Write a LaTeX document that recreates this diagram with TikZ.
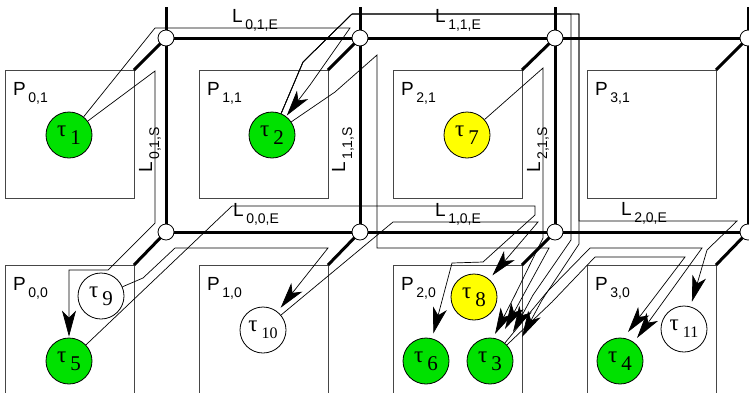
\documentclass[tikz,border=0pt]{standalone}
\usepackage{fontspec}
\setmainfont{Liberation Serif}
\setsansfont{Liberation Sans}
\usetikzlibrary{arrows.meta}
\definecolor{tgreen}{RGB}{0,225,0}
\definecolor{tyellow}{RGB}{255,255,0}
\definecolor{boxgray}{RGB}{70,70,70}
\newcommand\Plab[2]{{\sffamily\fontsize{19}{19}\selectfont #1\hspace{2.5pt}\raisebox{-7pt}{\fontsize{14}{14}\selectfont #2}}}
\newcommand\tlab[1]{{\fontsize{23}{23}\selectfont τ\hspace{4pt}\raisebox{-8pt}{\fontsize{21}{21}\selectfont #1}}}
\newcommand\tlabb[1]{{\fontsize{23}{23}\selectfont τ\hspace{4pt}\raisebox{-7pt}{\fontsize{16}{16}\selectfont #1}}}
\begin{document}
\begin{tikzpicture}[x=1pt,y=-1pt,
  link/.style={line width=3pt},
  router/.style={circle,draw,fill=white,line width=0.8pt,minimum size=16pt,inner sep=0pt},
  pbox/.style={draw=boxgray,line width=0.8pt},
  task/.style={circle,draw,line width=0.8pt,minimum size=46pt,inner sep=0pt},
  wire/.style={line width=0.7pt},
  arr/.style={wire,-{Stealth[length=26pt,width=14pt,inset=7pt]},shorten >=5pt},
  arrc/.style={wire,-{Stealth[length=26pt,width=14pt,inset=7pt]}},
  lab/.style={anchor=base west,inner sep=0pt}]
\useasboundingbox (0,0) rectangle (749,392);
% processor boxes
\foreach \i in {0,1,2,3}{
  \draw[pbox] (5+194*\i,70) rectangle (134+194*\i,198);
  \draw[pbox] (5+194*\i,265) rectangle (134+194*\i,400);
}
% links
\foreach \x in {166,360,555,748}{
  \draw[link] (\x,7) -- (\x,232);
}
\draw[link] (166,38) -- (760,38);
\draw[link] (166,232) -- (760,232);
\foreach \i/\x in {0/166,1/360,2/555,3/748}{
  \draw[link] (134+194*\i,70) -- (\x,38);
  \draw[link] (134+194*\i,265) -- (\x,232);
}
% routers
\foreach \x [count=\k] in {166,360,555,748}{
  \node[router] (ra\k) at (\x,38) {};
  \node[router] (rb\k) at (\x,232) {};
}
% tasks
\node[task,fill=tgreen] (t1) at (69,135) {\tlab{1}};
\node[task,fill=tgreen] (t2) at (272,135) {\tlab{2}};
\node[task,fill=tyellow] (t7) at (467,135) {\tlab{7}};
\node[task,fill=white] (t9) at (101,296) {\tlab{9}};
\node[task,fill=tgreen] (t5) at (69,361) {\tlab{5}};
\node[task,fill=white] (t10) at (263,330) {\tlabb{10}};
\node[task,fill=tyellow] (t8) at (474,297) {\tlab{8}};
\node[task,fill=tgreen] (t6) at (426,361) {\tlab{6}};
\node[task,fill=tgreen] (t3) at (490,361) {\tlab{3}};
\node[task,fill=tgreen] (t4) at (620,361) {\tlab{4}};
\node[task,fill=white] (t11) at (684,329) {\tlabb{11}};
% arrow ends near tau3 and tau4
\coordinate (e1) at (495,334);
\coordinate (e2) at (505,329);
\coordinate (e3) at (513,332);
\coordinate (e4) at (522,337);
\coordinate (f1) at (628,332);
\coordinate (f2) at (637,338);
% wires
\draw[arr,shorten >=1pt] (t1) -- (155,28) -- (350,28) -- (310,85) -- (t2);
\draw[arr,shorten >=1pt] (t1) -- (155,71) -- (155,223) -- (108,270) -- (69,270) -- (t5);
\draw[arrc] (t2) -- (335,92) -- (377,55) -- (377,248) -- (549,248) -- (525,292) -- (e2);
\draw[arrc] (t2) -- (303,62) -- (352,14) -- (571,14) -- (571,240) -- (533,295) -- (e3);
\draw[arrc] (t2) -- (303,62) -- (352,14) -- (579,14) -- (579,244) -- (542,300) -- (e4);
\draw[arr] (t2) -- (303,62) -- (352,14) -- (579,14) -- (579,221) -- (737,221) -- (707,250) -- (t11);
\draw[arrc] (t7) -- (543,68) -- (543,238) -- (515,295) -- (e1);
\draw[arr] (t5) -- (232,206) -- (535,206) -- (535,215) -- (483,262) -- (452,263) -- (t6);
\draw[arr] (t9) -- (143,278) -- (175,248) -- (328,248) -- (t10);
\draw[arr] (t10) -- (393,222) -- (538,222) -- (t8);
\draw[arrc] (t3) -- (547,292) -- (590,248) -- (702,248) -- (f2);
\draw[arrc] (t3) -- (552,302) -- (595,257) -- (685,257) -- (f1);
% labels
\node[lab] (p01) at (13,95) {\Plab{P}{0,1}};
\node[lab] (p11) at (207,95) {\Plab{P}{1,1}};
\node[lab] (p21) at (401,95) {\Plab{P}{2,1}};
\node[lab] (p31) at (595,95) {\Plab{P}{3,1}};
\node[lab] (p00) at (13,290) {\Plab{P}{0,0}};
\node[lab] (p10) at (207,290) {\Plab{P}{1,0}};
\node[lab] (p20) at (401,290) {\Plab{P}{2,0}};
\node[lab] (p30) at (595,290) {\Plab{P}{3,0}};
\node[lab] (l01e) at (232,22) {\Plab{L}{0,1,E}};
\node[lab] (l11e) at (435,22) {\Plab{L}{1,1,E}};
\node[lab] (l00e) at (233,216) {\Plab{L}{0,0,E}};
\node[lab] (l10e) at (435,216) {\Plab{L}{1,0,E}};
\node[lab] (l20e) at (621,215) {\Plab{L}{2,0,E}};
\node[lab,rotate=90] (l01s) at (152,173) {\Plab{L}{0,1,S}};
\node[lab,rotate=90] (l11s) at (345,173) {\Plab{L}{1,1,S}};
\node[lab,rotate=90] (l21s) at (540,173) {\Plab{L}{2,1,S}};
\end{tikzpicture}
\end{document}
